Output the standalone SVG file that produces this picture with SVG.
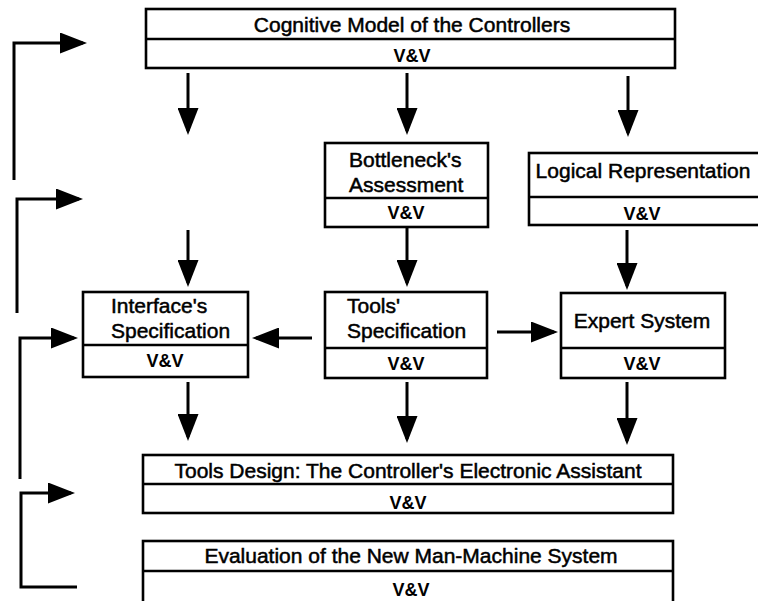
<svg xmlns="http://www.w3.org/2000/svg" width="758" height="601" viewBox="0 0 758 601">
<defs>
<marker id="ah" markerUnits="userSpaceOnUse" markerWidth="27" markerHeight="21" refX="23" refY="10.5" orient="auto">
<path d="M0,0 L27,10.5 L0,21 z" fill="#000"/>
</marker>
<style>
.box{fill:#fff;stroke:#000;stroke-width:2.6}
.div{stroke:#000;stroke-width:2.4}
.t{font-family:"Liberation Sans",Arial,sans-serif;font-size:21px;fill:#000;stroke:#000;stroke-width:0.5}
.v{font-family:"Liberation Sans",Arial,sans-serif;font-size:18px;font-weight:bold;fill:#000;text-anchor:middle}
.c{text-anchor:middle}
.ln{fill:none;stroke:#000;stroke-width:3;marker-end:url(#ah)}
</style>
</defs>
<rect width="758" height="601" fill="#fff"/>

<g id="cognitive">
<rect class="box" x="146" y="9" width="529" height="59"/>
<line class="div" x1="146" y1="39" x2="675" y2="39"/>
<text class="t c" x="412" y="32">Cognitive Model of the Controllers</text>
<text class="v" x="412" y="62">V&amp;V</text>
</g>

<g id="bottleneck">
<rect class="box" x="325" y="143" width="163" height="84"/>
<line class="div" x1="325" y1="198" x2="488" y2="198"/>
<text class="t" x="349" y="167">Bottleneck's</text>
<text class="t" x="349" y="192">Assessment</text>
<text class="v" x="406" y="219">V&amp;V</text>
</g>

<g id="logical">
<rect class="box" x="529" y="153" width="240" height="72"/>
<line class="div" x1="529" y1="197" x2="769" y2="197"/>
<text class="t c" x="643" y="178">Logical Representation</text>
<text class="v" x="642" y="220">V&amp;V</text>
</g>

<g id="interface">
<rect class="box" x="83" y="292" width="165" height="85"/>
<line class="div" x1="83" y1="345" x2="248" y2="345"/>
<text class="t" x="111" y="313">Interface's</text>
<text class="t" x="111" y="338">Specification</text>
<text class="v" x="165" y="367">V&amp;V</text>
</g>

<g id="tools">
<rect class="box" x="325" y="292" width="162" height="86"/>
<line class="div" x1="325" y1="348" x2="487" y2="348"/>
<text class="t" x="347" y="313">Tools'</text>
<text class="t" x="347" y="338">Specification</text>
<text class="v" x="406" y="370">V&amp;V</text>
</g>

<g id="expert">
<rect class="box" x="561" y="293" width="164" height="85"/>
<line class="div" x1="561" y1="348" x2="725" y2="348"/>
<text class="t c" x="642" y="328">Expert System</text>
<text class="v" x="642" y="370">V&amp;V</text>
</g>

<g id="design">
<rect class="box" x="143" y="455" width="530" height="58"/>
<line class="div" x1="143" y1="484" x2="673" y2="484"/>
<text class="t c" x="408" y="478">Tools Design: The Controller's Electronic Assistant</text>
<text class="v" x="408" y="509">V&amp;V</text>
</g>

<g id="evaluation">
<rect class="box" x="143" y="541" width="530" height="70"/>
<line class="div" x1="143" y1="571" x2="673" y2="571"/>
<text class="t c" x="411" y="563">Evaluation of the New Man-Machine System</text>
<text class="v" x="411" y="596">V&amp;V</text>
</g>

<g id="connectors">
<line class="ln" x1="188" y1="73" x2="188" y2="131"/>
<line class="ln" x1="407" y1="73" x2="407" y2="131"/>
<line class="ln" x1="628" y1="76" x2="628" y2="133"/>
<line class="ln" x1="188" y1="230" x2="188" y2="283"/>
<line class="ln" x1="407" y1="228" x2="407" y2="283"/>
<line class="ln" x1="627" y1="230" x2="627" y2="286"/>
<line class="ln" x1="312" y1="338" x2="256" y2="338"/>
<line class="ln" x1="497" y1="332" x2="554" y2="332"/>
<line class="ln" x1="188" y1="382" x2="188" y2="437"/>
<line class="ln" x1="407" y1="382" x2="407" y2="439"/>
<line class="ln" x1="627" y1="382" x2="627" y2="441"/>
<path class="ln" d="M14,180 V43 H83"/>
<path class="ln" d="M17,313 V199 H79"/>
<path class="ln" d="M20,479 V338 H74"/>
<path class="ln" d="M77,587 H21 V493 H71"/>
</g>
</svg>
